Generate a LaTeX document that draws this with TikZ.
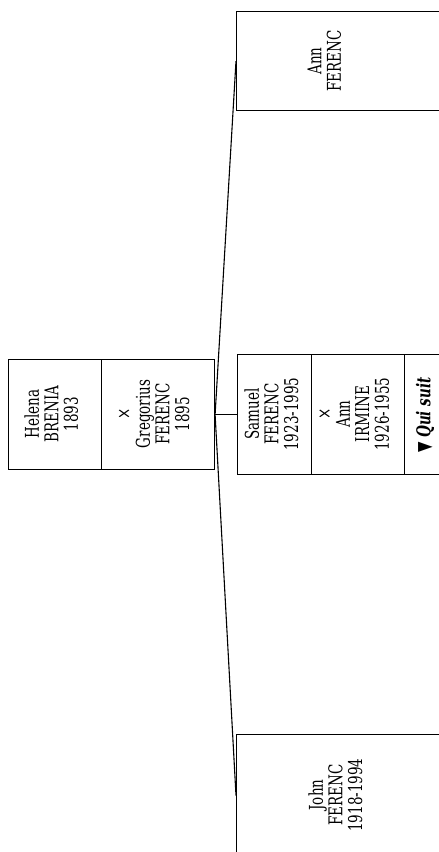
\documentclass[tikz,border=0pt]{standalone}
\usepackage{fontspec}
\setmainfont{DejaVu Serif}
\newfontfamily\symfont{DejaVu Sans}
\newcommand{\stk}[1]{\scalebox{0.71}[1]{\begin{tabular}{@{}c@{}}#1\end{tabular}}}
\begin{document}
\begin{tikzpicture}[x=1pt,y=-1pt,
  cell/.style={draw=black, line width=1.1pt, inner sep=0pt, anchor=north west},
  txt/.style={rotate=90, inner sep=0pt, text=black,
    font=\fontsize{19pt}{18.4pt}\selectfont},
  link/.style={draw=black, line width=1.1pt}]
\useasboundingbox (0,0) rectangle (439,852);
\clip (0,0) rectangle (439,852);
% parent couple
\node[cell, minimum width=93pt, minimum height=110pt] (helena) at (8,359) {};
\node[cell, minimum width=113pt, minimum height=110pt] (gregorius) at (101,359) {};
\node[txt] (helenaT) at (54,414) {\stk{Helena\\BRENIA\\1893}};
\node[txt] (gregoriusT) at (156,414) {\stk{×\\Gregorius\\FERENC\\1895}};
% children
\node[cell, minimum width=220pt, minimum height=99pt] (ann) at (236,11) {};
\node[txt] (annT) at (327,61) {\stk{Ann\\FERENC}};
\node[cell, minimum width=74pt, minimum height=120pt] (samuel) at (237,354) {};
\node[cell, minimum width=93pt, minimum height=120pt] (irmine) at (311,354) {};
\node[cell, minimum width=44pt, minimum height=120pt] (quisuit) at (404,354) {};
\node[txt] (samuelT) at (274,414) {\stk{Samuel\\FERENC\\1923-1995}};
\node[txt] (irmineT) at (356,414) {\stk{×\\Ann\\IRMINE\\1926-1955}};
\node[txt] (quisuitT) at (426,415) {\stk{{\symfont ▼} \textbf{\textit{Qui suit}}}};
\node[cell, minimum width=220pt, minimum height=122pt] (john) at (236,734) {};
\node[txt] (johnT) at (338,795) {\stk{John\\FERENC\\1918-1994}};
% connectors
\draw[link] (gregorius.east) -- (samuel.west);
\draw[link] (gregorius.east) -- (ann.west);
\draw[link] (gregorius.east) -- (john.west);
\end{tikzpicture}
\end{document}
